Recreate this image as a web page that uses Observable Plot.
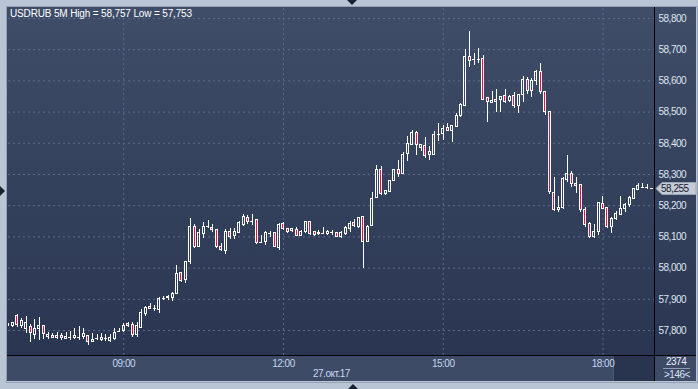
<!DOCTYPE html>
<html><head><meta charset="utf-8">
<script src="https://cdn.jsdelivr.net/npm/d3@7"></script>
<script src="https://cdn.jsdelivr.net/npm/@observablehq/plot@0.6"></script>
<style>
html,body{margin:0;padding:0;background:#b9c4d4;}
#wrap{position:relative;width:698px;height:389px;overflow:hidden;background:#b9c4d4;font-family:"Liberation Sans",Arial,sans-serif;}
#wrap div.abs{position:absolute;}
#wrap svg{position:absolute;left:0;top:0;}
.lbl{position:absolute;font-size:10px;letter-spacing:-0.5px;white-space:nowrap;line-height:10px;}
</style></head>
<body><div id="wrap">
<div class="abs" style="left:6px;top:6px;width:690px;height:375px;border:1px solid #96a2b4;"></div>
<div class="abs" style="left:7px;top:7px;width:689px;height:348px;background:linear-gradient(#3f4d69,#2a3651);"></div>
<div class="abs" style="left:7px;top:355px;width:689px;height:26px;background:#3d4b67;"></div>
<div class="abs" style="left:613px;top:356px;width:41px;height:25px;background:#29344e;border-left:1px solid #4c5873;box-sizing:border-box;"></div>
</div>
<script>
// ---- data -------------------------------------------------------------
const instrument = "USDRUB 5M";
const firstBar = "06:50";
const barMinutes = 5;
const opens = [
57.816,57.815,57.846,57.814,57.805,57.810,57.787,57.805,57.816,57.780,
57.784,57.776,57.781,57.773,57.777,57.776,57.779,57.779,57.781,57.763,
57.773,57.770,57.774,57.767,57.773,57.798,57.800,57.822,57.819,57.787,
57.807,57.853,57.877,57.871,57.866,57.903,57.903,57.905,57.918,57.984,
57.963,58.019,58.131,58.069,58.108,58.133,58.129,58.121,58.069,58.056,
58.117,58.102,58.113,58.139,58.161,58.150,58.153,58.083,58.083,58.112,
58.112,58.065,58.142,58.126,58.118,58.123,58.102,58.115,58.147,58.115,
58.108,58.111,58.109,58.113,58.113,58.099,58.108,58.126,58.145,58.131,
58.163,58.083,58.134,58.225,58.313,58.236,58.243,58.279,58.315,58.302,
58.366,58.396,58.433,58.384,58.390,58.361,58.364,58.428,58.430,58.448,
58.439,58.452,58.489,58.521,58.678,58.668,58.670,58.670,58.545,58.530,
58.532,58.539,58.551,58.534,58.551,58.518,58.556,58.603,58.567,58.599,
58.630,58.564,58.500,58.241,58.185,58.192,58.284,58.302,58.270,58.265,
58.187,58.140,58.099,58.115,58.206,58.192,58.131,58.158,58.171,58.188,
58.203,58.222,58.251,58.259,58.258,58.255];
const highs = [
57.822,57.825,57.850,57.840,57.846,57.818,57.835,57.843,57.816,57.795,
57.790,57.795,57.792,57.795,57.798,57.808,57.814,57.805,57.781,57.791,
57.788,57.790,57.787,57.787,57.805,57.805,57.821,57.825,57.827,57.827,
57.868,57.878,57.888,57.880,57.906,57.910,57.911,57.923,58.008,57.987,
58.021,58.160,58.141,58.124,58.146,58.154,58.141,58.121,58.079,58.124,
58.127,58.127,58.149,58.172,58.169,58.172,58.153,58.105,58.116,58.118,
58.112,58.144,58.145,58.128,58.128,58.131,58.119,58.150,58.150,58.118,
58.120,58.131,58.120,58.120,58.113,58.117,58.134,58.150,58.155,58.163,
58.163,58.137,58.243,58.329,58.326,58.250,58.282,58.317,58.345,58.372,
58.422,58.440,58.437,58.396,58.420,58.390,58.437,58.462,58.458,58.465,
58.458,58.496,58.526,58.700,58.757,58.687,58.703,58.680,58.545,58.567,
58.571,58.551,58.571,58.553,58.562,58.556,58.613,58.610,58.607,58.634,
58.657,58.567,58.500,58.289,58.229,58.289,58.361,58.309,58.289,58.268,
58.193,58.147,58.140,58.210,58.229,58.195,58.163,58.180,58.229,58.207,
58.228,58.256,58.270,58.270,58.268,58.256];
const lows = [
57.814,57.809,57.811,57.805,57.789,57.763,57.770,57.768,57.770,57.770,
57.774,57.770,57.768,57.770,57.768,57.770,57.768,57.770,57.753,57.762,
57.767,57.765,57.765,57.763,57.767,57.793,57.793,57.810,57.779,57.779,
57.805,57.846,57.866,57.862,57.856,57.897,57.897,57.894,57.914,57.955,
57.950,58.013,58.062,58.066,58.095,58.128,58.114,58.064,58.054,58.045,
58.091,58.091,58.110,58.134,58.139,58.137,58.076,58.082,58.072,58.097,
58.067,58.055,58.122,58.112,58.115,58.101,58.100,58.112,58.106,58.100,
58.106,58.108,58.104,58.104,58.099,58.096,58.104,58.114,58.131,58.128,
57.998,58.081,58.132,58.223,58.233,58.233,58.241,58.278,58.289,58.300,
58.343,58.393,58.361,58.374,58.350,58.345,58.360,58.407,58.410,58.437,
58.401,58.450,58.484,58.518,58.642,58.649,58.655,58.537,58.468,58.528,
58.500,58.500,58.528,58.530,58.513,58.494,58.532,58.556,58.548,58.586,
58.555,58.490,58.237,58.182,58.179,58.189,58.275,58.257,58.238,58.179,
58.130,58.095,58.095,58.104,58.187,58.127,58.112,58.154,58.171,58.177,
58.193,58.221,58.248,58.257,58.253,58.252];
const closes = [
57.820,57.823,57.818,57.831,57.825,57.791,57.805,57.814,57.789,57.787,
57.777,57.784,57.776,57.780,57.777,57.784,57.779,57.788,57.763,57.770,
57.773,57.777,57.774,57.777,57.793,57.798,57.816,57.814,57.787,57.813,
57.857,57.873,57.868,57.871,57.902,57.903,57.906,57.918,57.982,57.960,
58.021,58.133,58.067,58.112,58.133,58.133,58.121,58.067,58.059,58.117,
58.101,58.117,58.144,58.163,58.147,58.150,58.081,58.083,58.113,58.112,
58.067,58.137,58.126,58.115,58.126,58.102,58.117,58.147,58.110,58.107,
58.113,58.111,58.115,58.113,58.099,58.112,58.128,58.142,58.134,58.160,
58.083,58.133,58.222,58.313,58.236,58.247,58.279,58.315,58.302,58.364,
58.398,58.433,58.396,58.396,58.359,58.371,58.428,58.428,58.446,58.440,
58.454,58.489,58.524,58.678,58.663,58.668,58.670,58.540,58.532,58.537,
58.540,58.548,58.532,58.548,58.518,58.556,58.603,58.567,58.599,58.630,
58.564,58.500,58.243,58.185,58.193,58.286,58.302,58.270,58.262,58.185,
58.137,58.099,58.117,58.210,58.190,58.131,58.158,58.172,58.190,58.203,
58.224,58.252,58.262,58.259,58.258,58.255];
const priceTicks = [57.8,57.9,58.0,58.1,58.2,58.3,58.4,58.5,58.6,58.7,58.8];
const timeTicks = ["09:00","12:00","15:00","18:00"];
const dateLabel = "27.окт.17";
const totalBars = 2374;

// ---- build -------------------------------------------------------------
const toDate = (s, sec = 0) => { const [h, m] = s.split(":").map(Number); return new Date(Date.UTC(2017, 9, 27, h, m, sec)); };
const t0 = toDate(firstBar);
const candles = opens.map((o, i) => ({
  date: new Date(+t0 + i * barMinutes * 60000),
  open: o, high: highs[i], low: lows[i], close: closes[i]
}));
const fmt = v => v.toFixed(3).replace(".", ",");
const tickDates = timeTicks.map(s => toDate(s));
const pxPerMs = 0.8875 / 60000;
const halfBody = 1 / pxPerMs;       // 1px
const halfDoji = 1.5 / pxPerMs;
const isDoji = d => Math.abs(d.open - d.close) < 0.0015;
const up = candles.filter(d => !isDoji(d) && d.close > d.open);
const down = candles.filter(d => !isDoji(d) && d.close < d.open);
const doji = candles.filter(isDoji);
const white = "#ffffff", red = "#ec0f3e";

const plot = Plot.plot({
  width: 698, height: 389,
  marginLeft: 8, marginRight: 44, marginTop: 8, marginBottom: 34,
  style: {background: "transparent", overflow: "visible", fontFamily: "'Liberation Sans', Arial, sans-serif", fontSize: "10px", letterSpacing: "-0.5px"},
  x: {type: "utc", domain: [toDate("06:50", 9), toDate("18:58", 3)], label: null},
  y: {domain: [57.720, 58.832], label: null},
  marks: [
    Plot.gridY(priceTicks, {stroke: "#5d6c88", strokeOpacity: 1, strokeDasharray: "2,3"}),
    Plot.gridX(tickDates, {stroke: "#5d6c88", strokeOpacity: 1, strokeDasharray: "2,3"}),
    Plot.ruleX(candles, {x: "date", y1: "high", y2: d => Math.max(d.open, d.close), stroke: white, clip: true, shapeRendering: "crispEdges"}),
    Plot.ruleX(candles, {x: "date", y1: d => Math.min(d.open, d.close), y2: "low", stroke: white, clip: true, shapeRendering: "crispEdges"}),
    Plot.rect(up, {x1: d => new Date(+d.date - halfBody), x2: d => new Date(+d.date + halfBody), y1: "open", y2: "close", fill: "none", stroke: white, clip: true, shapeRendering: "crispEdges"}),
    Plot.rect(down, {x1: d => new Date(+d.date - halfBody), x2: d => new Date(+d.date + halfBody), y1: "open", y2: "close", fill: red, stroke: white, clip: true, shapeRendering: "crispEdges"}),
    Plot.ruleY(doji, {y: "close", x1: d => new Date(+d.date - halfDoji), x2: d => new Date(+d.date + halfDoji), stroke: white, clip: true, shapeRendering: "crispEdges"}),
    Plot.axisY(priceTicks, {anchor: "right", tickSize: 0, tickPadding: 4, tickFormat: fmt, fill: "#dfe5ee"}),
    Plot.axisX(tickDates, {anchor: "bottom", tickSize: 0, tickPadding: 4, tickFormat: d3.utcFormat("%H:%M"), fill: "#c4d5ee"})
  ]
});
const wrap = document.getElementById("wrap");
wrap.appendChild(plot);

// overlays
const hi = d3.max(highs), lo = d3.min(lows);
function addDiv(style, html, cls) {
  const d = document.createElement("div");
  d.className = cls || "abs";
  d.setAttribute("style", style);
  if (html != null) d.textContent = html;
  wrap.appendChild(d);
  return d;
}
addDiv("left:654px;top:7px;width:1px;height:374px;background:#000;");
addDiv("left:7px;top:355px;width:689px;height:1px;background:#000;");
addDiv("left:10px;top:9px;color:#ffffff;letter-spacing:-0.15px;", `${instrument} High = ${fmt(hi)} Low = ${fmt(lo)}`, "lbl");
addDiv("left:313px;top:369px;color:#c8d8ef;", dateLabel, "lbl");
addDiv("left:666px;top:357px;color:#eef2f8;", String(totalBars), "lbl");
addDiv("left:663px;top:368px;width:27px;height:1px;background:#8f9bb0;");
addDiv("left:664px;top:370px;color:#d6e2f3;", `>${candles.length}<`, "lbl");
// triangles
addDiv("left:347px;top:0px;width:0;height:0;border-left:5px solid transparent;border-right:5px solid transparent;border-top:5px solid #1b2130;");
addDiv("left:348px;top:384px;width:0;height:0;border-left:5px solid transparent;border-right:5px solid transparent;border-bottom:5px solid #1b2130;");
addDiv("left:0px;top:186px;width:0;height:0;border-top:5px solid transparent;border-bottom:5px solid transparent;border-left:5px solid #1b2130;");

// current price tag (positioned with the plot's y scale), drawn above the separators
const last = candles[candles.length - 1];
const yy = Math.round(plot.scale("y").apply(last.close)) + 0.5;
const tag = d3.select(wrap).append("svg")
  .attr("width", 698).attr("height", 389)
  .style("position", "absolute").style("left", "0px").style("top", "0px").style("pointer-events", "none");
tag.append("path").attr("d", `M656,${yy}L662,${yy - 6}H696V${yy + 6}H662Z`).attr("fill", "#c5ccd8").attr("stroke", "#9aa4b4");
tag.append("text").attr("x", 661).attr("y", yy).attr("dy", "0.35em")
  .attr("text-anchor", "start").attr("fill", "#18202e")
  .style("font-family", "'Liberation Sans', Arial, sans-serif").style("font-size", "10px").style("letter-spacing", "-0.5px")
  .text(fmt(last.close));
</script>
</body></html>
